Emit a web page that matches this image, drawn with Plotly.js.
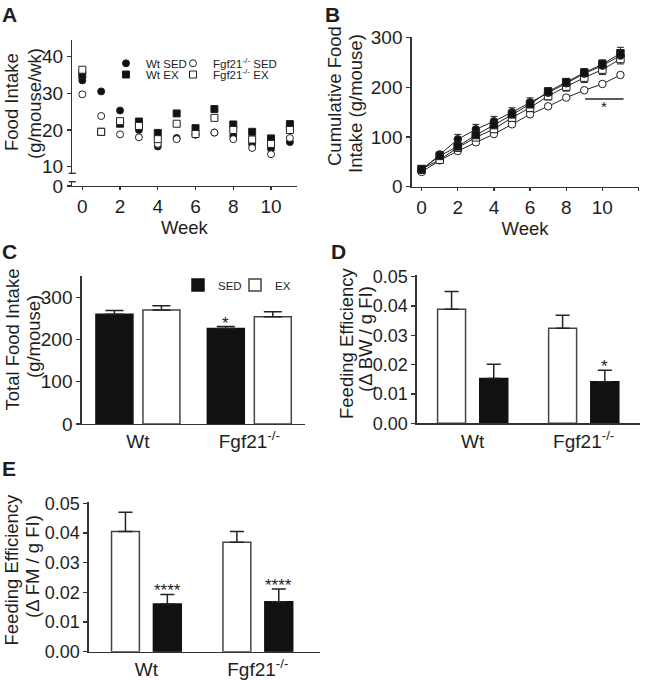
<!DOCTYPE html>
<html><head><meta charset="utf-8">
<script src="https://cdn.plot.ly/plotly-3.0.1.min.js"></script>
<style>html,body{margin:0;padding:0;background:#fff}#chart{width:649px;height:680px}</style>
</head><body><div id="chart"></div>
<script>
// ---------- DATA ----------
const weeks = [0,1,2,3,4,5,6,7,8,9,10,11];
// Panel A: weekly food intake (g/mouse/wk)
const intakeWtSED = [33.5,30.5,25.3,20.0,15.5,17.8,18.7,19.3,18.4,16.1,14.9,16.7];
const intakeWtEX  = [35.0,19.5,21.7,22.3,19.2,24.5,20.5,25.7,21.5,19.5,17.7,21.6];
const intakeKoSED = [29.7,23.8,18.8,18.0,16.2,17.5,18.8,19.3,17.5,15.1,13.4,17.8];
const intakeKoEX  = [36.4,19.5,22.4,21.1,17.5,21.7,18.9,23.3,20.0,17.4,16.2,20.0];
// Panel B: cumulative food intake (g/mouse) and SEM
const cumWtSED = [33.5,65.0,95.3,115.4,131.5,149.7,169.8,189.0,208.0,227.5,243.6,263.8];
const cumWtEX  = [35.0,62.0,81.0,104.0,124.0,145.6,165.8,191.3,210.0,229.5,246.3,268.5];
const cumKoSED = [29.7,53.0,71.8,89.3,106.0,125.5,145.6,161.7,179.2,194.0,206.7,224.8];
const cumKoEX  = [35.6,54.4,78.5,99.3,116.0,139.0,159.0,182.5,201.3,219.5,235.6,257.0];
const semWtSED = [2,3,10,10,10,9,9,9,9,8,9,8];
const semWtEX  = [2,3,6,7,7,8,8,8,8,8,9,12];
const semKoSED = [1,2,2,3,3,3,3,3,3,3,4,4];
const semKoEX  = [2,3,5,6,7,7,8,8,9,10,10,10];
// Panels C-E: groups
const groups = ['Wt','Fgf21<sup>-/-</sup>'];
const totalSED = [260,226], totalSEDerr = [8.5,4.6];
const totalEX  = [270,254], totalEXerr  = [10,12];
const febwEX  = [0.0389,0.0324], febwEXerr  = [0.0060,0.0044];
const febwSED = [0.0153,0.0142], febwSEDerr = [0.0048,0.0039];
const fefmEX  = [0.0405,0.0369], fefmEXerr  = [0.0065,0.0036];
const fefmSED = [0.0161,0.0168], fefmSEDerr = [0.0032,0.0043];
const starsC = ['', '*'];
const starsD = ['', '*'];
const starsE = ['****', '****'];

// ---------- STYLE / LAYOUT ----------
const W = 649, H = 680;
const F = 'Liberation Sans, Arial, sans-serif';
const TXT = '#1e1e1e', AX = '#333';
const px = v => v / W;          // horizontal pixel -> paper
const py = v => 1 - v / H;      // vertical pixel -> paper
const zeros = a => a.map(() => 0);

const axBase = {showgrid:false, zeroline:false, showline:true, linecolor:AX, linewidth:1.4,
  ticks:'outside', ticklen:4, tickwidth:1.4, tickcolor:AX,
  tickfont:{family:F, size:19, color:TXT}, fixedrange:true, automargin:false};
const titleFont = {family:F, size:18.5, color:TXT};

const filled = '#111', open = '#fff';
const traces = [];

// Panel A (filled first, open on top)
function aTrace(y, name, sym, fill, leg) {
  return {x:weeks, y:y, name:name, type:'scatter', mode:'markers', xaxis:'x', yaxis:'y', legend:leg,
    marker:{symbol:sym, size:7, color:fill, line:{color:'#222', width:1}}, cliponaxis:false};
}
traces.push(aTrace(intakeWtSED, 'Wt SED', 'circle', filled, 'legend'));
traces.push(aTrace(intakeWtEX, 'Wt EX', 'square', filled, 'legend2'));
traces.push(aTrace(intakeKoSED, 'Fgf21<sup>-/-</sup> SED', 'circle', open, 'legend3'));
traces.push(aTrace(intakeKoEX, 'Fgf21<sup>-/-</sup> EX', 'square', open, 'legend4'));
traces.push({x:[], y:[], xaxis:'x', yaxis:'y2', type:'scatter', showlegend:false});

// Panel B
function bTrace(y, err, down, sym, fill) {
  return {x:weeks, y:y, type:'scatter', mode:'lines+markers', xaxis:'x2', yaxis:'y3', showlegend:false,
    line:{color:'#222', width:1}, cliponaxis:false,
    marker:{symbol:sym, size:7.5, color:fill, line:{color:'#222', width:1}},
    error_y:{type:'data', symmetric:false, array: down ? zeros(err) : err, arrayminus: down ? err : zeros(err),
      color:'#222', thickness:1, width:3.5}};
}
traces.push(bTrace(cumKoSED, semKoSED, false, 'circle', open));
traces.push(bTrace(cumKoEX, semKoEX, true, 'square', open));
traces.push(bTrace(cumWtSED, semWtSED, false, 'circle', filled));
traces.push(bTrace(cumWtEX, semWtEX, false, 'square', filled));

// Bars
function bar(y, err, xa, ya, fill, lc, w, off, cap, name, leg, show) {
  return {x:[0,1], y:y, type:'bar', xaxis:xa, yaxis:ya, width:w, offset:off, name:name,
    legend:leg, showlegend:show,
    marker:{color:fill, line:{color:lc, width:1.5}},
    error_y:{type:'data', symmetric:false, array:err, arrayminus:zeros(err), color:'#222', thickness:1.5, width:cap}};
}
const C = {w:0.332, sed:-0.377, ex:0.045};
const D = {w:0.252, ex:-0.316, sed:0.064};
const E = {w:0.25, ex:-0.313, sed:0.063};
traces.push(bar(totalSED, totalSEDerr, 'x3', 'y4', '#111', '#111', C.w, C.sed, 9, 'SED', 'legend5', true));
traces.push(bar(totalEX, totalEXerr, 'x3', 'y4', '#fff', '#444', C.w, C.ex, 9, 'EX', 'legend6', true));
traces.push(bar(febwEX, febwEXerr, 'x4', 'y5', '#fff', '#444', D.w, D.ex, 7, 'EX', 'legend6', false));
traces.push(bar(febwSED, febwSEDerr, 'x4', 'y5', '#111', '#111', D.w, D.sed, 7, 'SED', 'legend5', false));
traces.push(bar(fefmEX, fefmEXerr, 'x5', 'y6', '#fff', '#444', E.w, E.ex, 7, 'EX', 'legend6', false));
traces.push(bar(fefmSED, fefmSEDerr, 'x5', 'y6', '#111', '#111', E.w, E.sed, 7, 'SED', 'legend5', false));

const catAx = (dom, rng, anchor) => Object.assign({}, axBase, {domain:dom, range:rng, anchor:anchor,
  ticks:'', tickmode:'array', tickvals:[0,1], ticktext:groups});
const decFont = {family:F, size:18, color:TXT};

const layout = {
  width:W, height:H, margin:{l:0,r:0,t:0,b:0}, paper_bgcolor:'#fff', plot_bgcolor:'rgba(0,0,0,0)',
  font:{family:F, color:TXT}, barmode:'overlay', showlegend:true,
  // A
  xaxis: Object.assign({}, axBase, {domain:[px(72.3), px(296.5)], range:[-0.53, 11.35], anchor:'y2',
    ticklen:3, tickvals:[0,2,4,6,8,10], title:{text:'Week', font:titleFont, standoff:0}}),
  yaxis: Object.assign({}, axBase, {domain:[py(173.3), py(40)], range:[8.2, 44.5], anchor:'x',
    tickvals:[10,20,30,40]}),
  yaxis2: Object.assign({}, axBase, {domain:[py(186), py(181.7)], range:[0, 1], anchor:'x', tickvals:[0]}),
  // B
  xaxis2: Object.assign({}, axBase, {domain:[px(411.7), px(638.5)], range:[-0.55, 12], anchor:'y3',
    ticklen:3, tickvals:[0,2,4,6,8,10,12], title:{text:'Week', font:titleFont, standoff:0}}),
  yaxis3: Object.assign({}, axBase, {domain:[py(186.7), py(36.6)], range:[0, 302], anchor:'x2',
    tickvals:[0,100,200,300]}),
  // C
  xaxis3: catAx([px(81.7), px(305)], [-0.505, 1.5], 'y4'),
  yaxis4: Object.assign({}, axBase, {domain:[py(424), py(276.2)], range:[0, 350], anchor:'x3',
    tickvals:[0,100,200,300]}),
  // D
  xaxis4: catAx([px(416.7), px(640)], [-0.504, 1.507], 'y5'),
  yaxis5: Object.assign({}, axBase, {domain:[py(423.3), py(274.8)], range:[0, 0.0506], anchor:'x4',
    tickfont:decFont, tickvals:[0,0.01,0.02,0.03,0.04,0.05], tickformat:'.2f'}),
  // E
  xaxis5: catAx([px(88.8), px(320)], [-0.517, 1.558], 'y6'),
  yaxis6: Object.assign({}, axBase, {domain:[py(651.7), py(502.4)], range:[0, 0.0503], anchor:'x5',
    tickfont:decFont, tickvals:[0,0.01,0.02,0.03,0.04,0.05], tickformat:'.2f'}),
  shapes: [
    {type:'line', xref:'paper', yref:'paper', x0:px(68.8), x1:px(75.8), y0:py(173.3), y1:py(173.3), line:{color:AX, width:1.4}},
    {type:'line', xref:'paper', yref:'paper', x0:px(68.8), x1:px(75.8), y0:py(181.7), y1:py(181.7), line:{color:AX, width:1.4}},
    {type:'line', xref:'x2', yref:'y3', x0:9.05, x1:11.17, y0:176.5, y1:176.5, line:{color:'#222', width:1.3}}
  ],
  annotations: []
};

const legBase = {bgcolor:'rgba(0,0,0,0)', borderwidth:0, font:{family:F, size:11.5, color:TXT},
  xanchor:'left', yanchor:'middle', itemclick:false, itemdoubleclick:false};
layout.legend  = Object.assign({}, legBase, {x:px(146-40), y:py(63.3)});
layout.legend2 = Object.assign({}, legBase, {x:px(146-40), y:py(74.5)});
layout.legend3 = Object.assign({}, legBase, {x:px(213-40), y:py(63.3)});
layout.legend4 = Object.assign({}, legBase, {x:px(213-40), y:py(74.5)});
layout.legend5 = Object.assign({}, legBase, {x:px(218-40), y:py(285)});
layout.legend6 = Object.assign({}, legBase, {x:px(275-40), y:py(285)});

// y-axis titles, one rotated text per line
const yTitles = [
  ['Food Intake', 11, 102], ['(g/mouse/wk)', 34, 104],
  ['Cumulative Food', 335, 96], ['Intake (g/mouse)', 355, 104],
  ['Total Food Intake', 11.5, 340], ['(g/mouse)', 33, 337],
  ['Feeding Efficiency', 346, 343], ['(Δ BW / g FI)', 365, 339],
  ['Feeding Efficiency', 10.5, 570], ['(Δ FM / g FI)', 32, 567]
];
yTitles.forEach(([t,x,y]) => layout.annotations.push({text:t, xref:'paper', yref:'paper', x:px(x), y:py(y),
  textangle:-90, showarrow:false, xanchor:'center', yanchor:'middle', font:titleFont}));

// panel letters
[['A',9.5,14.5],['B',332,14.5],['C',9.5,251],['D',338,251],['E',9,468]].forEach(([t,x,y]) => {
  layout.annotations.push({text:t, xref:'paper', yref:'paper', x:px(x), y:py(y),
    showarrow:false, font:{family:F, size:21, color:TXT, weight:'bold'}, xanchor:'center', yanchor:'middle'});
});
// significance stars on bars
function starAnn(stars, vals, errs, off, w, xa, ya) {
  stars.forEach((s, i) => {
    if (!s) return;
    layout.annotations.push({text:s, x:i + off + w/2, y:vals[i] + errs[i], xref:xa, yref:ya,
      showarrow:false, yanchor:'bottom', yshift:-8, font:{family:F, size:17, color:TXT}});
  });
}
starAnn(starsC, totalSED, totalSEDerr, C.sed, C.w, 'x3', 'y4');
starAnn(starsD, febwSED, febwSEDerr, D.sed, D.w, 'x4', 'y5');
starAnn(starsE, fefmSED, fefmSEDerr, E.sed, E.w, 'x5', 'y6');
layout.annotations.push({text:'*', x:10.1, y:176.5, xref:'x2', yref:'y3', showarrow:false,
  yanchor:'top', yshift:3, font:{family:F, size:15, color:TXT}});

Plotly.newPlot('chart', traces, layout, {displayModeBar:false, staticPlot:true});
</script></body></html>
